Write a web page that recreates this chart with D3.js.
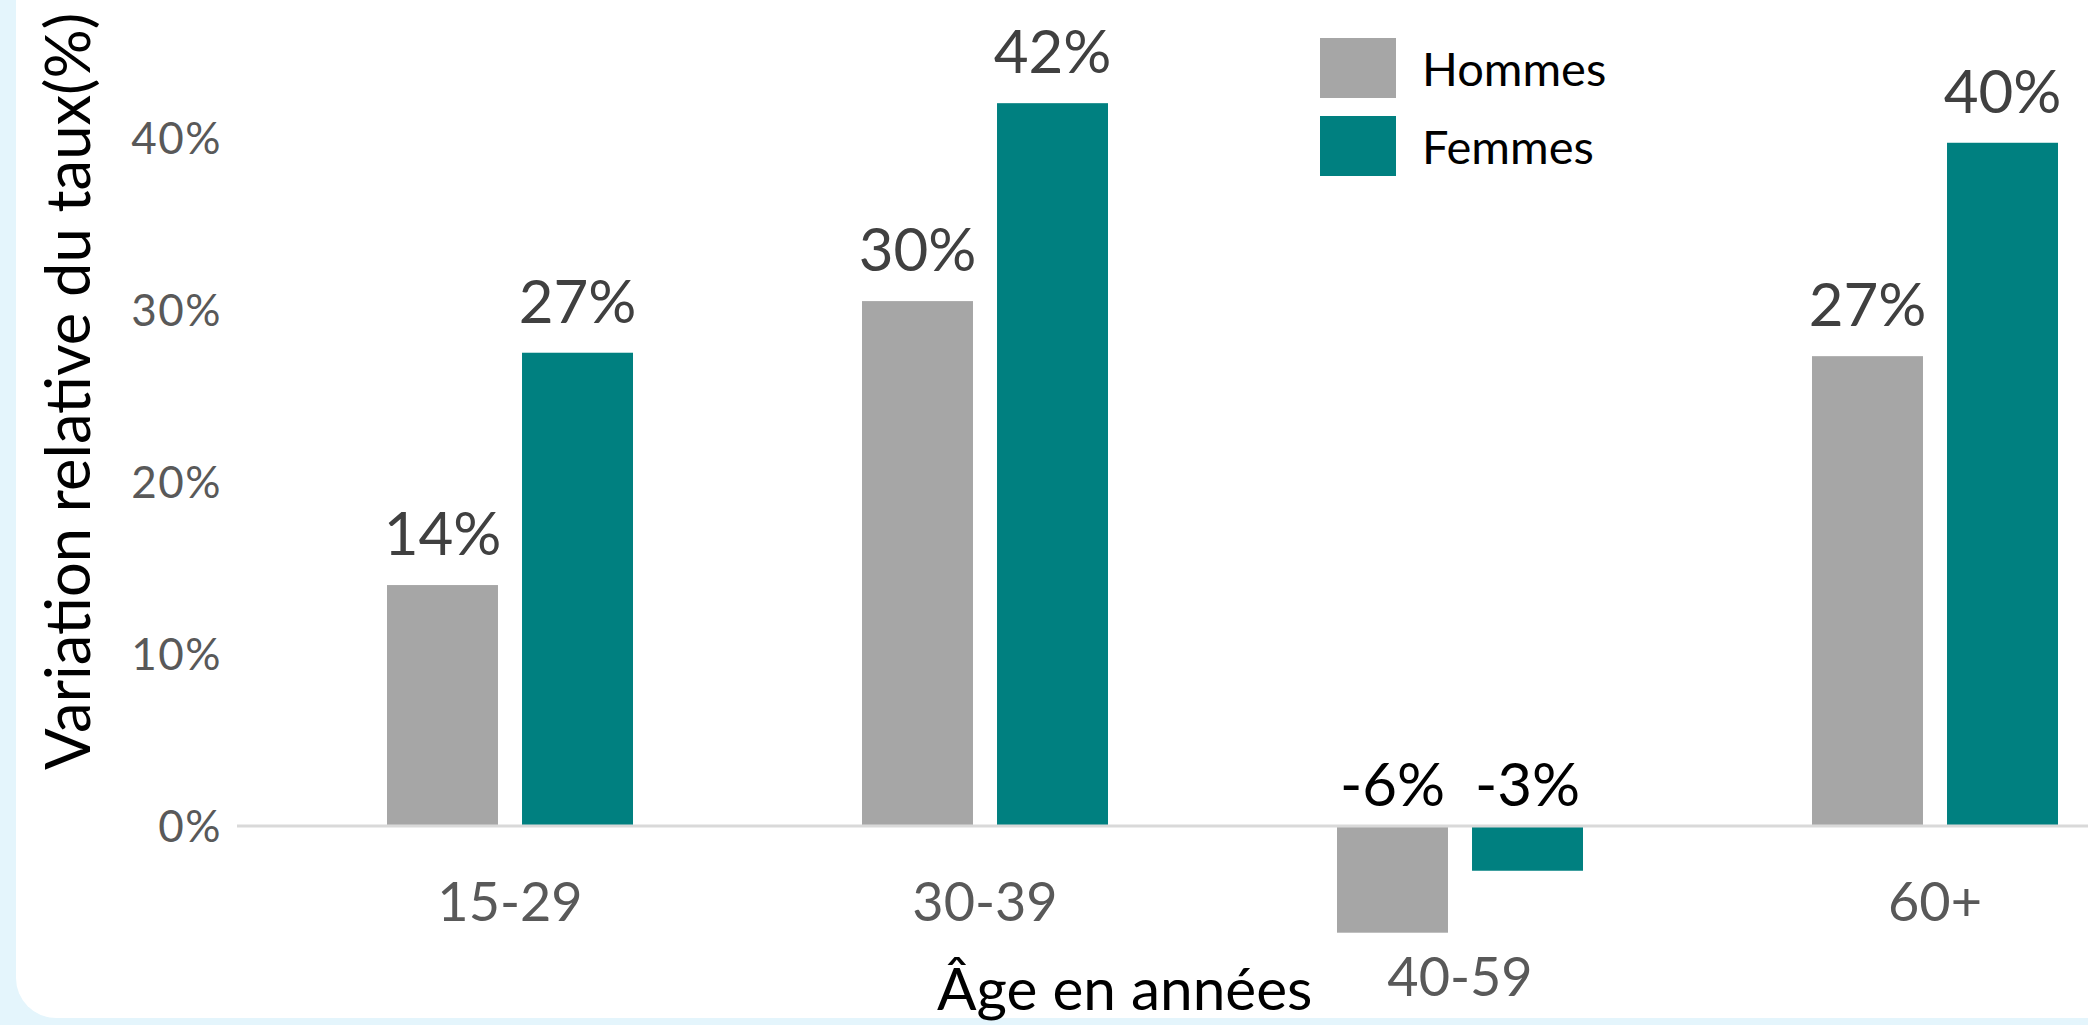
<!DOCTYPE html>
<html>
<head>
<meta charset="utf-8">
<script src="https://cdnjs.cloudflare.com/ajax/libs/d3/7.8.5/d3.min.js"></script>
<style>
  body { margin: 0; background: #e4f5fc; }
  svg { display: block; }
</style>
</head>
<body>
<div class="chart"></div>
<script>

var categories = ["15-29", "30-39", "40-59", "60+"];
var series = ["Hommes", "Femmes"];
var hommes = [14.0, 30.5, -6.2, 27.3];
var femmes = [27.5, 42.0, -2.6, 39.7];
var hommesLabels = ["14%", "30%", "-6%", "27%"];
var femmesLabels = ["27%", "42%", "-3%", "40%"];
var yTicks = [0, 10, 20, 30, 40];

var colors = { "Hommes": "#a6a6a6", "Femmes": "#008080" };

var svgWidth = 2088, svgHeight = 1025;

var svg = d3.select(".chart")
	.append("svg")
	.attr("width", svgWidth)
	.attr("height", svgHeight);

// white card, light blue frame shows on the left and bottom
svg.append("rect")
	.attr("x", 16)
	.attr("y", -60)
	.attr("width", svgWidth + 60)
	.attr("height", 1078)
	.attr("rx", 40)
	.attr("fill", "#ffffff");

var y = d3.scaleLinear()
	.domain([0, 40])
	.range([826, 137.6]);

var x0 = d3.scaleBand()
	.domain(categories)
	.range([272.5, 2172.5]);

var x1 = d3.scaleBand()
	.domain(series)
	.range([0, x0.bandwidth()])
	.paddingInner(0.178)
	.paddingOuter(0.848);

// one row per bar
var rows = [];
categories.forEach(function (c, i) {
	rows.push({ cat: c, s: "Hommes", v: hommes[i], label: hommesLabels[i] });
	rows.push({ cat: c, s: "Femmes", v: femmes[i], label: femmesLabels[i] });
});

// y axis, labels only
var yAxis = svg.append("g")
	.attr("transform", "translate(222,0)")
	.call(d3.axisLeft(y).tickValues(yTicks).tickSize(0).tickPadding(0)
		.tickFormat(function (d) { return d + "%"; }));
yAxis.select(".domain").remove();
yAxis.selectAll("text")
	.attr("font-family", "Lato")
	.attr("font-size", 44)
	.attr("letter-spacing", 1.5)
	.attr("fill", "#595959")
	.attr("dy", "0.36em");

// bars
svg.selectAll(".bar")
	.data(rows)
	.enter()
	.append("rect")
	.classed("bar", true)
	.attr("x", function (d) { return x0(d.cat) + x1(d.s); })
	.attr("width", x1.bandwidth())
	.attr("y", function (d) { return y(Math.max(0, d.v)); })
	.attr("height", function (d) { return Math.abs(y(d.v) - y(0)); })
	.attr("fill", function (d) { return colors[d.s]; });

// zero line
svg.append("line")
	.attr("x1", 237)
	.attr("x2", svgWidth)
	.attr("y1", y(0))
	.attr("y2", y(0))
	.attr("stroke", "#d9d9d9")
	.attr("stroke-width", 3);

// value labels
svg.selectAll(".val")
	.data(rows)
	.enter()
	.append("text")
	.classed("val", true)
	.attr("x", function (d) { return x0(d.cat) + x1(d.s) + x1.bandwidth() / 2; })
	.attr("y", function (d) { return d.v >= 0 ? y(d.v) - 30 : y(0) - 20; })
	.attr("text-anchor", "middle")
	.attr("font-family", "Lato")
	.attr("font-size", 60)
	.attr("fill", function (d) { return d.v >= 0 ? "#404040" : "#000000"; })
	.text(function (d) { return d.label; });

// x axis labels (pushed below negative bars)
var xAxis = svg.append("g")
	.attr("transform", "translate(0," + y(0) + ")")
	.call(d3.axisBottom(x0).tickSize(0).tickPadding(0));
xAxis.select(".domain").remove();
xAxis.selectAll("text")
	.attr("font-family", "Lato")
	.attr("font-size", 54)
	.attr("fill", "#595959")
	.attr("dy", 0)
	.attr("y", function (c, i) {
		var low = Math.min(0, hommes[i], femmes[i]);
		return Math.max(95, y(low) - y(0) + 63);
	});

// axis titles
svg.append("text")
	.attr("transform", "translate(90,770) rotate(-90)")
	.attr("font-family", "Lato")
	.attr("font-size", 61.5)
	.attr("fill", "#000000")
	.text("Variation relative du taux(%)");

svg.append("text")
	.attr("x", 937)
	.attr("y", 1010)
	.attr("font-family", "Lato")
	.attr("font-size", 58.5)
	.attr("fill", "#000000")
	.text("Âge en années");

// legend
var legend = svg.selectAll(".legend")
	.data(series)
	.enter()
	.append("g")
	.classed("legend", true)
	.attr("transform", function (d, i) { return "translate(1320," + (38 + i * 78) + ")"; });

legend.append("rect")
	.attr("width", 76)
	.attr("height", 60)
	.attr("fill", function (d) { return colors[d]; });

legend.append("text")
	.attr("x", 102)
	.attr("y", 48)
	.attr("font-family", "Lato")
	.attr("font-size", 47)
	.attr("fill", "#000000")
	.text(function (d) { return d; });

</script>
</body>
</html>
